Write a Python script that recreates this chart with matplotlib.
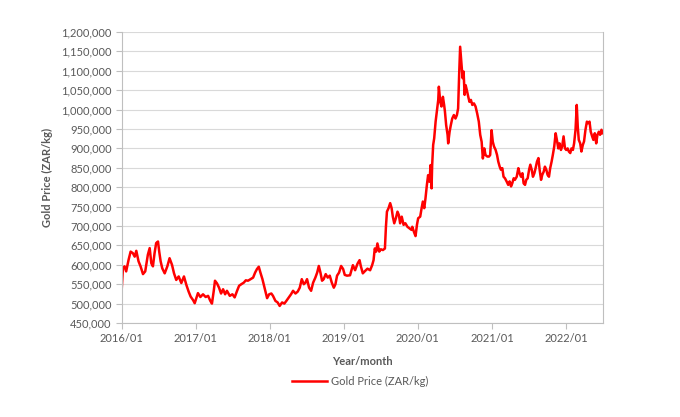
import matplotlib
matplotlib.use("Agg")
import matplotlib.pyplot as plt
import matplotlib.dates as mdates
import numpy as np
import pandas as pd

dates_2016 = ["2016-01-01","2016-01-08","2016-01-16","2016-01-24","2016-02-05","2016-02-15","2016-02-26",
              "2016-03-06","2016-03-14","2016-03-25","2016-04-04","2016-04-16","2016-04-27","2016-05-10",
              "2016-05-19","2016-05-27","2016-06-04","2016-06-12","2016-06-20","2016-06-29","2016-07-05",
              "2016-07-12","2016-07-20","2016-08-01","2016-08-14","2016-08-25","2016-09-06","2016-09-16",
              "2016-09-27","2016-10-09","2016-10-22","2016-11-04","2016-11-16","2016-11-27","2016-12-07",
              "2016-12-19","2016-12-27","2017-01-04","2017-01-12"]
price_2016 = [527, 591, 596, 583, 613, 634, 630, 621, 636, 609, 596, 576, 583, 626, 643, 604, 596, 630,
              656, 660, 634, 609, 591, 578, 596, 617, 600, 578, 561, 570, 553, 570, 548, 531, 518, 509,
              501, 514, 527]

dates_2017 = ["2017-01-24","2017-02-06","2017-02-19","2017-03-03","2017-03-14","2017-03-22","2017-03-31",
              "2017-04-06","2017-04-16","2017-04-26","2017-05-06","2017-05-16","2017-05-26","2017-06-04",
              "2017-06-18","2017-07-01","2017-07-12","2017-07-24","2017-08-03","2017-08-14","2017-08-26",
              "2017-09-05","2017-09-16","2017-09-28","2017-10-11","2017-10-21","2017-10-30","2017-11-08",
              "2017-11-16","2017-11-26","2017-12-04","2017-12-12","2017-12-19","2017-12-29","2018-01-09",
              "2018-01-17"]
price_2017 = [517, 524, 517, 520, 507, 500, 533, 559, 552, 541, 526, 537, 524, 533, 520, 524, 516, 533,
              546, 550, 554, 560, 559, 563, 567, 580, 589, 595, 580, 563, 546, 528, 514, 524, 526, 520]

dates_2018 = ["2018-01-29","2018-02-09","2018-02-19","2018-03-03","2018-03-14","2018-03-24","2018-04-05",
              "2018-04-16","2018-04-26","2018-05-08","2018-05-19","2018-05-29","2018-06-08","2018-06-18",
              "2018-06-26","2018-07-04","2018-07-14","2018-07-24","2018-08-03","2018-08-14","2018-08-23",
              "2018-08-31","2018-09-08","2018-09-16","2018-09-24","2018-10-04","2018-10-14","2018-10-24",
              "2018-11-03","2018-11-13","2018-11-21","2018-11-29","2018-12-09","2018-12-19","2018-12-29",
              "2019-01-06","2019-01-17"]
price_2018 = [507, 503, 494, 503, 500, 507, 516, 524, 533, 526, 531, 541, 563, 550, 554, 563, 541, 533,
              554, 567, 580, 597, 580, 559, 563, 576, 567, 572, 554, 541, 550, 572, 580, 597, 589, 574, 572]

dates_2019 = ["2019-02-01","2019-02-15","2019-02-26","2019-03-10","2019-03-20","2019-03-26","2019-04-05",
              "2019-04-16","2019-04-28","2019-05-11","2019-05-21","2019-05-28","2019-06-03","2019-06-10",
              "2019-06-16","2019-06-25","2019-07-03","2019-07-13","2019-07-23","2019-07-28","2019-08-02",
              "2019-08-10","2019-08-18","2019-08-25","2019-08-31","2019-09-07","2019-09-15","2019-09-23",
              "2019-09-30","2019-10-06","2019-10-14","2019-10-23","2019-11-01","2019-11-11","2019-11-21",
              "2019-12-01"]
price_2019 = [573, 599, 586, 603, 612, 597, 578, 584, 590, 586, 599, 612, 642, 634, 655, 634, 640, 638,
              642, 698, 737, 746, 759, 746, 724, 707, 720, 737, 728, 707, 724, 703, 707, 698, 694, 690]

dates_2020 = ["2019-12-05","2019-12-13","2019-12-21","2019-12-28","2020-01-03","2020-01-13","2020-01-20",
              "2020-01-26","2020-02-02","2020-02-08","2020-02-15","2020-02-21","2020-02-28","2020-03-04",
              "2020-03-09","2020-03-12","2020-03-17","2020-03-22","2020-03-29","2020-04-04","2020-04-11",
              "2020-04-14","2020-04-21","2020-04-27","2020-05-04","2020-05-10","2020-05-14","2020-05-20",
              "2020-05-27","2020-05-30","2020-06-06","2020-06-12","2020-06-19","2020-06-27","2020-07-05",
              "2020-07-12","2020-07-18","2020-07-23","2020-07-28","2020-08-04","2020-08-09","2020-08-14",
              "2020-08-19","2020-08-24","2020-08-30","2020-09-06","2020-09-12","2020-09-19","2020-09-26",
              "2020-10-04","2020-10-12","2020-10-20","2020-10-28","2020-11-04","2020-11-11","2020-11-17",
              "2020-11-24","2020-11-30","2020-12-09","2020-12-17","2020-12-23","2020-12-30","2021-01-05",
              "2021-01-11"]
price_2020 = [698, 685, 674, 703, 720, 724, 746, 763, 746, 771, 806, 831, 814, 857, 797, 857, 909, 926,
              969, 995, 1025, 1059, 1020, 1008, 1033, 1012, 995, 960, 935, 913, 943, 960, 977, 986, 977,
              986, 1003, 1089, 1162, 1115, 1081, 1098, 1038, 1063, 1050, 1033, 1020, 1025, 1012, 1016,
              1008, 990, 969, 935, 917, 874, 900, 883, 879, 879, 883, 947, 917, 905]

dates_2021 = ["2021-01-19","2021-01-26","2021-02-01","2021-02-08","2021-02-14","2021-02-21","2021-02-27",
              "2021-03-06","2021-03-14","2021-03-22","2021-03-29","2021-04-05","2021-04-11","2021-04-18",
              "2021-04-24","2021-05-03","2021-05-11","2021-05-17","2021-05-24","2021-05-31","2021-06-06",
              "2021-06-13","2021-06-19","2021-06-26","2021-07-03","2021-07-09","2021-07-16","2021-07-22",
              "2021-07-29","2021-08-04","2021-08-11","2021-08-18","2021-08-24","2021-08-31","2021-09-06",
              "2021-09-13","2021-09-19","2021-09-26","2021-10-02","2021-10-09","2021-10-15","2021-10-22",
              "2021-10-28","2021-11-04","2021-11-11","2021-11-17","2021-11-24","2021-11-30","2021-12-07",
              "2021-12-13","2021-12-20","2021-12-27","2022-01-02","2022-01-09","2022-01-15","2022-01-22",
              "2022-01-28","2022-02-04","2022-02-10","2022-02-17","2022-02-23","2022-02-28","2022-03-05",
              "2022-03-12","2022-03-18","2022-03-25","2022-03-31","2022-04-07","2022-04-14","2022-04-20",
              "2022-04-27","2022-05-03","2022-05-10","2022-05-16","2022-05-23","2022-05-30","2022-06-05",
              "2022-06-12","2022-06-18","2022-06-25","2022-06-30"]
price_2021 = [896, 883, 866, 853, 845, 849, 827, 823, 815, 806, 815, 802, 810, 823, 819, 827, 849, 836,
              827, 836, 810, 806, 819, 823, 845, 858, 845, 827, 836, 849, 866, 875, 845, 819, 832, 840,
              853, 845, 832, 827, 849, 866, 883, 905, 939, 922, 900, 913, 896, 905, 931, 900, 896, 900,
              892, 888, 900, 896, 913, 948, 1012, 956, 922, 913, 892, 909, 918, 948, 969, 965, 969, 943,
              931, 922, 939, 913, 935, 943, 935, 948, 939]

y_ticks = list(range(450000, 1200001, 50000))
x_tick_years = [2016, 2017, 2018, 2019, 2020, 2021, 2022]
series_name = "Gold Price (ZAR/kg)"
x_title = "Year/month"
y_title = "Gold Price (ZAR/kg)"

dates = pd.to_datetime(dates_2016 + dates_2017 + dates_2018 + dates_2019 + dates_2020 + dates_2021)
prices = np.array(price_2016 + price_2017 + price_2018 + price_2019 + price_2020 + price_2021) * 1000.0

plt.rcParams['font.family'] = ['Lato', 'DejaVu Sans']
fig = plt.figure(figsize=(6.8, 4.17), dpi=100)
ax = fig.add_axes([121.5/680, 1 - 323/417, (602.5 - 121.5)/680, (323 - 32)/417])

ax.plot(dates, prices, color='#FF0000', lw=1.8, label=series_name, solid_joinstyle='round')

ax.set_xlim(pd.Timestamp("2016-01-01"), pd.Timestamp("2022-06-30"))
ax.set_ylim(450000, 1200000)
ax.set_yticks(y_ticks)
ax.yaxis.set_major_formatter(matplotlib.ticker.FuncFormatter(lambda v, p: f"{int(v):,}"))
ax.set_xticks([pd.Timestamp(f"{y}-01-01") for y in x_tick_years])
ax.xaxis.set_major_formatter(mdates.DateFormatter('%Y/%m'))

ax.grid(axis='y', color='#D9D9D9', lw=0.8)
ax.set_axisbelow(True)
ax.spines['top'].set_visible(False)
for s in ['left', 'bottom', 'right']:
    ax.spines[s].set_color('#BFBFBF')
    ax.spines[s].set_linewidth(0.8)
ax.tick_params(axis='both', colors='#BFBFBF', labelcolor='#595959', labelsize=8, length=4, width=0.8)
ax.tick_params(axis='x', pad=3)
ax.tick_params(axis='y', pad=3)

ax.set_xlabel(x_title, fontsize=8, fontweight='bold', color='#595959', labelpad=9)
ax.set_ylabel(y_title, fontsize=8, fontweight='bold', color='#595959', labelpad=6)

leg = fig.legend(loc='center', bbox_to_anchor=(360/680, 1 - 381/417), frameon=False, fontsize=8,
                 handlelength=3.2, handletextpad=0.3)
for t in leg.get_texts():
    t.set_color('#595959')

fig.savefig("out.png", dpi=100)
